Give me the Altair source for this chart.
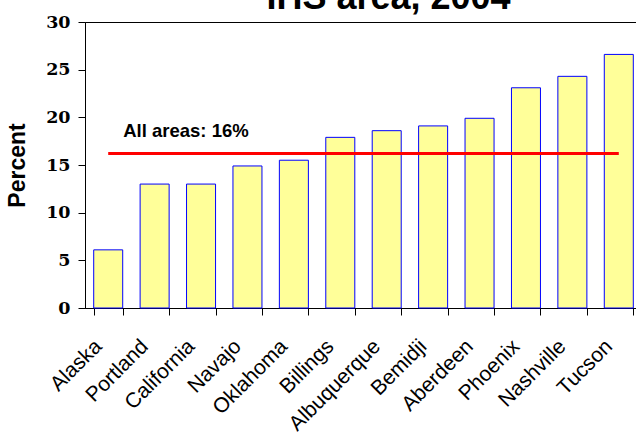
import altair as alt
import pandas as pd

areas = ["Alaska", "Portland", "California", "Navajo", "Oklahoma", "Billings",
         "Albuquerque", "Bemidji", "Aberdeen", "Phoenix", "Nashville", "Tucson"]
percents = [6.1, 13.0, 13.0, 14.9, 15.5, 17.9, 18.6, 19.1, 19.9, 23.1, 24.3, 26.6]
all_areas_value = 16.2
note_text = "All areas: 16%"
title_text = "IHS area, 2004"
y_ticks = [0, 5, 10, 15, 20, 25, 30]

df = pd.DataFrame({"area": areas, "pct": percents, "avg": [all_areas_value] * len(areas)})
note_df = pd.DataFrame({"area": [areas[0]], "avg": [all_areas_value], "label": [note_text]})

x_enc = alt.X(
    "area:N", sort=areas, title=None,
    scale=alt.Scale(range=[0, 557], paddingInner=0.375, paddingOuter=0.1875),
    axis=alt.Axis(labelAngle=-45, labelAlign="right", labelBaseline="middle",
                  labelPadding=28, labelOffset=-10, labelFont="Liberation Sans",
                  labelFontSize=21, labelColor="black", tickBand="extent", tickSize=7,
                  tickColor="black", domainColor="black", labelOverlap=False),
)
y_scale = alt.Scale(domain=[0, 30], nice=False)
y_axis = alt.Axis(values=y_ticks, title="Percent", titleFont="Liberation Sans",
                  titleFontSize=23, titleFontWeight="bold", titleColor="black",
                  titlePadding=16, labelFont="DejaVu Serif", labelFontWeight="bold",
                  labelFontSize=17.5, labelColor="black", labelPadding=8,
                  tickSize=7, tickColor="black", domainColor="black", grid=False)

bars = alt.Chart(df).mark_bar(fill="#FFFF99", stroke="#0000FF", strokeWidth=1).encode(
    x=x_enc,
    y=alt.Y("pct:Q", scale=y_scale, axis=y_axis),
)

line = alt.Chart(df).mark_line(color="#FF0000", strokeWidth=3).encode(
    x=alt.X("area:N", sort=areas),
    y=alt.Y("avg:Q"),
)

note = alt.Chart(note_df).mark_text(
    align="left", baseline="alphabetic", dx=15, dy=-17,
    font="Liberation Sans", fontSize=18.5, fontWeight="bold", color="black",
).encode(
    x=alt.X("area:N", sort=areas),
    y=alt.Y("avg:Q"),
    text="label:N",
)

chart = alt.layer(bars, line, note).properties(
    width=551, height=286,
    autosize=alt.AutoSizeParams(type="none"),
    padding={"left": 85, "top": 22, "right": 0, "bottom": 126},
    title=alt.TitleParams(title_text, font="Liberation Sans", fontSize=36,
                          fontWeight="bold", color="black", baseline="bottom",
                          offset=-40, anchor="middle", frame="group", dx=28),
    background="white",
).configure_view(stroke="black", strokeWidth=1)

chart.save("out.html", embed_options={"renderer": "svg", "actions": False})
